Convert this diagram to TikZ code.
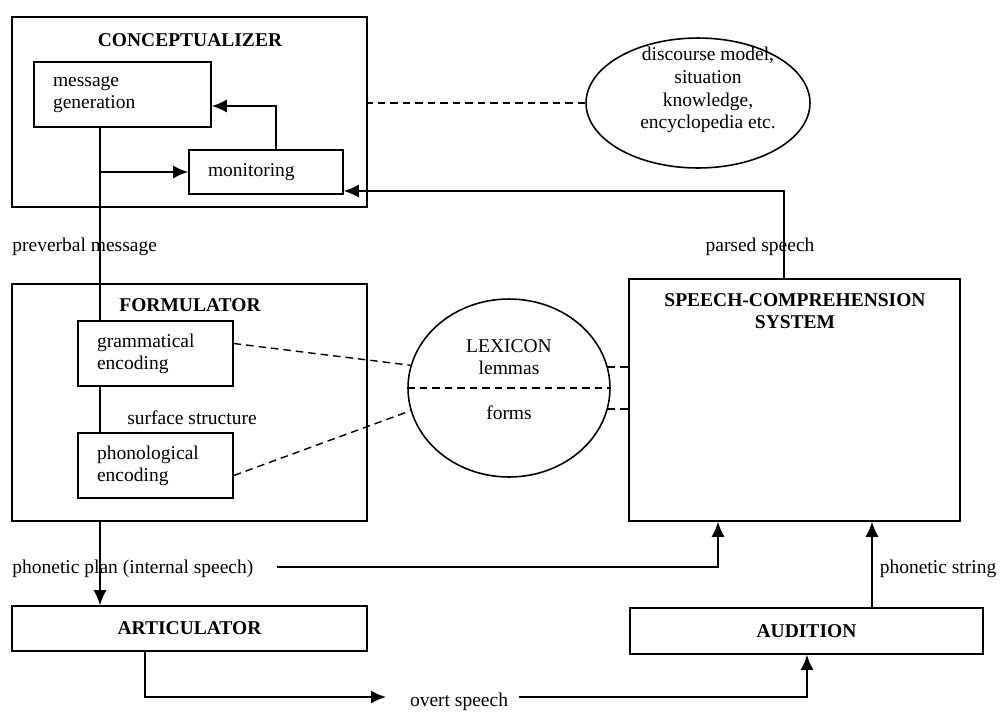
\documentclass[tikz,border=0pt]{standalone}
\usepackage{fontspec}
\setmainfont{Liberation Serif}
\usepackage{tikz}
\usetikzlibrary{arrows.meta}
\usetikzlibrary{shapes.geometric}
\usetikzlibrary{positioning}
\newcommand{\figfont}{\fontsize{11.1pt}{12.6pt}\selectfont}
\tikzstyle{block}=[draw,line width=0.9pt,rectangle,inner sep=0pt]
\tikzstyle{part}=[draw,line width=0.9pt,rectangle,align=left,inner xsep=0.38cm,inner ysep=0pt]
\tikzstyle{heading}=[font=\figfont\bfseries,align=center]

\begin{document}
\begin{tikzpicture}[x=0.02cm,y=-0.02cm,font=\figfont]
\tikzstyle{arr}=[line width=1pt,-{Latex[length=3mm,width=2.6mm]}]
\tikzstyle{dashline}=[line width=0.8pt,dash pattern=on 1.5mm off 1mm]
\tikzstyle{oval}=[draw,line width=0.9pt,ellipse,inner sep=0pt]
\useasboundingbox (0,0) rectangle (1000,711);

% conceptualizer
\node [block,minimum width=7.1cm,minimum height=3.8cm] (concept) at (189.5,112) {};
\node [heading] (concept-t) at (190,40) {CONCEPTUALIZER};
\node [part,text width=2.78cm,minimum height=1.3cm] (msg) at (122.5,94.5) {message\\generation};
\node [part,text width=2.32cm,minimum height=0.88cm] (mon) at (266,172) {monitoring};

\node [oval,minimum width=4.48cm,minimum height=2.6cm] (know) at (698,103) {};
\node [align=center,font=\fontsize{11.1pt}{13pt}\selectfont] (know-t) at (708,90) {discourse model,\\situation\\knowledge,\\encyclopedia etc.};

\node [anchor=west,inner sep=0pt] (pvm) at (12,247) {preverbal message};
\node (psp) at (760,247) {parsed speech};

% formulator
\node [block,minimum width=7.1cm,minimum height=4.74cm] (form) at (189.5,402.5) {};
\node [heading] (form-t) at (190,305) {FORMULATOR};
\node [part,text width=2.34cm,minimum height=1.3cm] (gram) at (155.5,353.5) {grammatical\\encoding};
\node (surf) at (192,418) {surface structure};
\node [part,text width=2.34cm,minimum height=1.3cm] (phon) at (155.5,465.5) {phonological\\encoding};

% lexicon
\node [oval,minimum width=4.04cm,minimum height=3.56cm] (lex) at (509,388) {};
\node (lex-t) at (509,346) {LEXICON};
\node (lem) at (509,368) {lemmas};
\node (frm) at (509,413) {forms};

\node [block,minimum width=6.62cm,minimum height=4.84cm] (scs) at (794.5,400) {};
\node [heading] (scs-t) at (795,311) {SPEECH-COMPREHENSION\\SYSTEM};

% bottom row
\node [block,minimum width=7.1cm,minimum height=0.9cm,font=\figfont\bfseries] (art) at (189.5,628.5) {ARTICULATOR};
\node [block,minimum width=7.06cm,minimum height=0.92cm,font=\figfont\bfseries] (aud) at (806.5,631) {AUDITION};
\node [anchor=west,inner sep=0pt] (ppl) at (12,569) {phonetic plan (internal speech)};
\node (phs) at (938,569) {phonetic string};
\node (ovs) at (459,702) {overt speech};

\coordinate (tap) at (100,172);
\coordinate (fb) at (276,106);
\coordinate (ps) at (784,191);
\coordinate (pp1) at (277,567);
\coordinate (pp2) at (718,567);
\coordinate (pstr) at (872,0);
\coordinate (os1) at (145,697);
\coordinate (os2) at (386,697);
\coordinate (os3) at (519,697);
\coordinate (os4) at (807,0);

\draw [line width=1pt] (msg.south -| tap) -- (gram.north -| tap);
\draw [line width=1pt] (gram.south -| tap) -- (phon.north -| tap);
\draw [arr] (tap) -- (mon.west);
\draw [arr] (mon.north -| fb) |- (msg.east |- fb);
\draw [arr] (scs.north -| ps) |- (mon.east |- ps);
\draw [dashline] (know.west) -- (know.west -| concept.east);

\draw [dashline] (lex.west) -- (lex.east);
\draw [dashline] ([yshift=0.2cm]gram.east) -- (lex.167);
\draw [dashline] ([yshift=-0.2cm]phon.east) -- (lex.193);
\draw [dashline] (lex.12) -- (lex.12 -| scs.west);
\draw [dashline] (lex.-12) -- (lex.-12 -| scs.west);

\draw [arr] (form.south -| tap) -- (art.north -| tap);
\draw [arr] (pp1) -| (scs.south -| pp2);
\draw [arr] (aud.north -| pstr) -- (scs.south -| pstr);
\draw [arr] (art.south -| os1) |- (os2);
\draw [arr] (os3) -| (aud.south -| os4);
\end{tikzpicture}
\end{document}
